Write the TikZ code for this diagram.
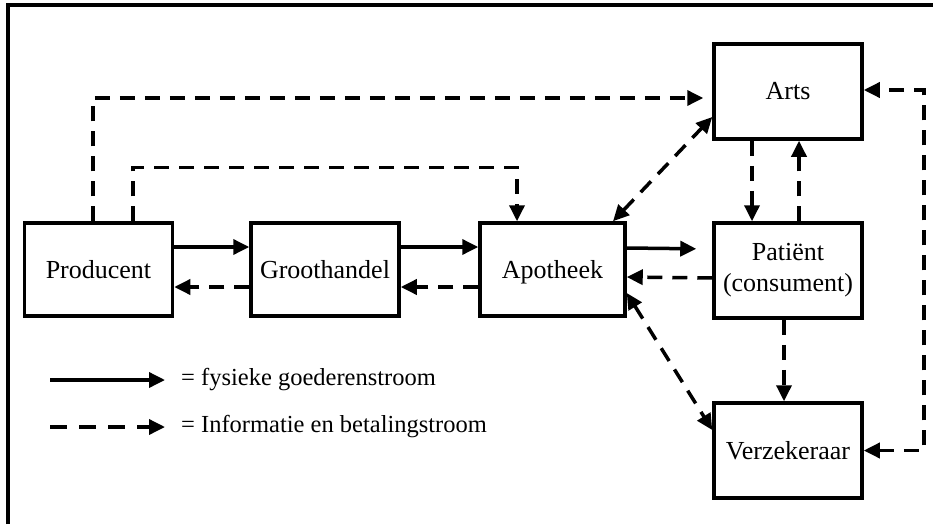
\documentclass[tikz,border=0pt]{standalone}
\usepackage{fontspec}
\setmainfont{Liberation Serif}
\usetikzlibrary{arrows.meta}
\begin{document}
\begin{tikzpicture}[x=1pt,y=-1pt,
  box/.style={draw,line width=3.5pt,minimum width=148pt,minimum height=93pt,
    inner sep=0pt,align=center,font=\fontsize{26}{31}\selectfont},
  flow/.style={line width=3.5pt,-{Triangle[length=16pt,width=15pt]}},
  info/.style={flow,dash pattern=on 15pt off 10pt},
  infoboth/.style={info,{Triangle[length=16pt,width=15pt]}-{Triangle[length=16pt,width=15pt]}},
  legendtext/.style={anchor=west,inner sep=0pt,font=\fontsize{24.5}{28}\selectfont}]
\useasboundingbox (0,0) rectangle (933,524);
% outer frame (top and left edges only)
\draw[line width=3.5pt] (8,524) -- (8,5) -- (933,5);

% actors
\node[box] (prod)  at (98.5,269.5) {Producent};
\node[box] (groot) at (325,269.5) {Groothandel};
\node[box,minimum width=145pt,text depth=0pt] (apoth) at (552.5,269.5) {Apotheek};
\node[box,minimum height=95pt] (pat)  at (788,270.5) {Patiënt\\(consument)};
\node[box,minimum height=95pt] (arts) at (788,91.5) {Arts};
\node[box,minimum height=95pt] (verz) at (788,450.5) {Verzekeraar};

% physical flow of goods
\draw[flow] ([yshift=22.5pt]prod.east) -- ([yshift=22.5pt]groot.west);
\draw[flow] ([yshift=22.5pt]groot.east) -- ([yshift=22.5pt]apoth.west);
\draw[flow,shorten >=16pt] ([yshift=21.5pt]apoth.east) -- ([yshift=21.5pt]pat.west);

% information and payment flow
\draw[info] ([yshift=-17.5pt]groot.west) -- ([yshift=-17.5pt]prod.east);
\draw[info] ([yshift=-17.5pt]apoth.west) -- ([yshift=-17.5pt]groot.east);
\draw[info] ([yshift=-7.5pt]pat.west) -- ([yshift=-7.5pt]apoth.east);
\draw[info,shorten >=9pt] ([xshift=-5.5pt]prod.north) |- ([yshift=-6.5pt]arts.west);
\draw[info] ([xshift=34.5pt]prod.north) -- ++(0,-54) -| ([xshift=-35.5pt]apoth.north);
\draw[infoboth] ([xshift=60.5pt]apoth.north) -- ([yshift=-25.5pt]arts.west);
\draw[infoboth] ([yshift=-23.5pt]apoth.east) -- ([yshift=20.5pt]verz.west);
\draw[info] ([xshift=-36pt]arts.south) -- ([xshift=-36pt]pat.north);
\draw[info] ([xshift=11pt]pat.north) -- ([xshift=11pt]arts.south);
\draw[info] ([xshift=-4pt]pat.south) -- ([xshift=-4pt]verz.north);
\draw[infoboth] (verz.east) -- ++(60,0) |- ([yshift=1.5pt]arts.east);

% legend
\coordinate (l1a) at (50,380);
\coordinate (l1b) at (165,380);
\coordinate (l2a) at (50,427);
\coordinate (l2b) at (165,427);
\draw[flow] (l1a) -- (l1b);
\draw[line width=3.5pt,dash pattern=on 17pt off 12pt,-{Triangle[length=16pt,width=15pt]}] (l2a) -- (l2b);
\node[legendtext] (t1) at (181,380) {= fysieke goederenstroom};
\node[legendtext] (t2) at (181,427) {= Informatie en betalingstroom};
\end{tikzpicture}
\end{document}
